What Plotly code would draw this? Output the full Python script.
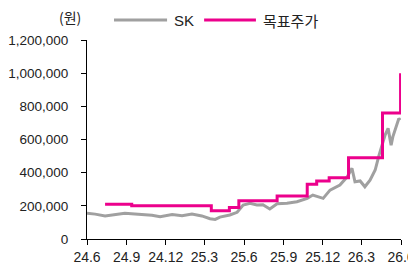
import plotly.graph_objects as go

# SK share price (won)
sk_dates = ["2024-06-01", "2024-06-20", "2024-07-13", "2024-08-05", "2024-08-28",
            "2024-09-28", "2024-10-30", "2024-11-18", "2024-12-16", "2025-01-08",
            "2025-01-31", "2025-02-23", "2025-03-14", "2025-03-26", "2025-04-06",
            "2025-04-29", "2025-05-16", "2025-05-30", "2025-06-15", "2025-07-01",
            "2025-07-15", "2025-07-31", "2025-08-17", "2025-09-09", "2025-10-02",
            "2025-10-26", "2025-11-08", "2025-12-02", "2025-12-18", "2026-01-10",
            "2026-01-27", "2026-02-07", "2026-02-14", "2026-02-26", "2026-03-09",
            "2026-03-21", "2026-04-02", "2026-04-11", "2026-04-18", "2026-04-25",
            "2026-05-02", "2026-05-09", "2026-05-13", "2026-05-23", "2026-05-27",
            "2026-05-30"]
sk_values = [155000, 150000, 139000, 148000, 155000,
             150000, 143000, 134000, 147000, 141000,
             151000, 139000, 122000, 118000, 132000,
             145000, 161000, 205000, 215000, 205000,
             207000, 181000, 212000, 215000, 225000,
             245000, 265000, 245000, 295000, 325000,
             375000, 426000, 345000, 350000, 315000,
             355000, 416000, 506000, 566000, 627000,
             667000, 566000, 616000, 697000, 727000,
             717000]

# Target price (won), step changes
tp_dates = ["2024-07-13", "2024-09-13", "2025-03-17", "2025-04-28", "2025-05-20",
            "2025-08-17", "2025-10-26", "2025-11-17", "2025-12-16", "2026-01-30",
            "2026-04-19", "2026-05-31"]
tp_values = [210000, 200000, 170000, 190000, 230000,
             260000, 330000, 350000, 370000, 490000,
             760000, 1000000]

tick_dates = ["2024-06-01", "2024-09-01", "2024-12-01", "2025-03-01", "2025-06-01",
              "2025-09-01", "2025-12-01", "2026-03-01", "2026-06-01"]
tick_labels = ["24.6", "24.9", "24.12", "25.3", "25.6", "25.9", "25.12", "26.3", "26.6"]
y_ticks = [0, 200000, 400000, 600000, 800000, 1000000, 1200000]

GRAY = "#a0a0a0"
PINK = "#ec008c"
FONT = "Arial"
KFONT = "Noto Sans CJK KR"

fig = go.Figure()
fig.add_trace(go.Scatter(x=sk_dates, y=sk_values, mode="lines", name="SK",
                         line=dict(color=GRAY, width=3)))
fig.add_trace(go.Scatter(x=tp_dates, y=tp_values, mode="lines", name="목표주가",
                         line=dict(color=PINK, width=3, shape="hv")))

# page body adds an 8px offset, margins compensate for it
fig.update_layout(
    width=416, height=270,
    margin=dict(l=79, r=23, t=32, b=39, autoexpand=False),
    paper_bgcolor="white", plot_bgcolor="white",
    showlegend=False,
    font=dict(family=FONT, size=14, color="#222222"),
    xaxis=dict(type="date", range=["2024-06-01", "2026-06-01"],
               tickvals=tick_dates, ticktext=tick_labels,
               automargin=False,
               showgrid=False, zeroline=False, showline=True,
               linecolor="black", linewidth=1,
               ticks="outside", ticklen=5, tickcolor="black",
               tickfont=dict(family=FONT, size=14, color="#222222")),
    yaxis=dict(range=[0, 1200000], tickvals=y_ticks,
               tickformat=",d", automargin=False,
               showgrid=False, zeroline=False, showline=True,
               linecolor="black", linewidth=1,
               ticks="outside", ticklen=5, tickcolor="black",
               ticklabelstandoff=10,
               tickfont=dict(family=FONT, size=13.5, color="#222222")),
)

# unit label
fig.add_annotation(text="(원)", xref="paper", yref="paper", x=-0.054, y=1.1156,
                   xanchor="center", yanchor="middle",
                   showarrow=False, font=dict(family=KFONT, size=14, color="#222222"))

# manual legend
fig.add_shape(type="line", xref="paper", yref="paper", x0=0.086, x1=0.255,
              y0=1.1005, y1=1.1005, line=dict(color=GRAY, width=3))
fig.add_annotation(text="SK", xref="paper", yref="paper", x=0.271, y=1.1005,
                   xanchor="left", yanchor="middle", showarrow=False,
                   font=dict(family=FONT, size=15, color="#222222"))
fig.add_shape(type="line", xref="paper", yref="paper", x0=0.373, x1=0.538,
              y0=1.1005, y1=1.1005, line=dict(color=PINK, width=3))
fig.add_annotation(text="목표주가", xref="paper", yref="paper", x=0.554, y=1.1005,
                   xanchor="left", yanchor="middle", showarrow=False,
                   font=dict(family=KFONT, size=15, color="#222222"))

fig.write_html("out.html")
